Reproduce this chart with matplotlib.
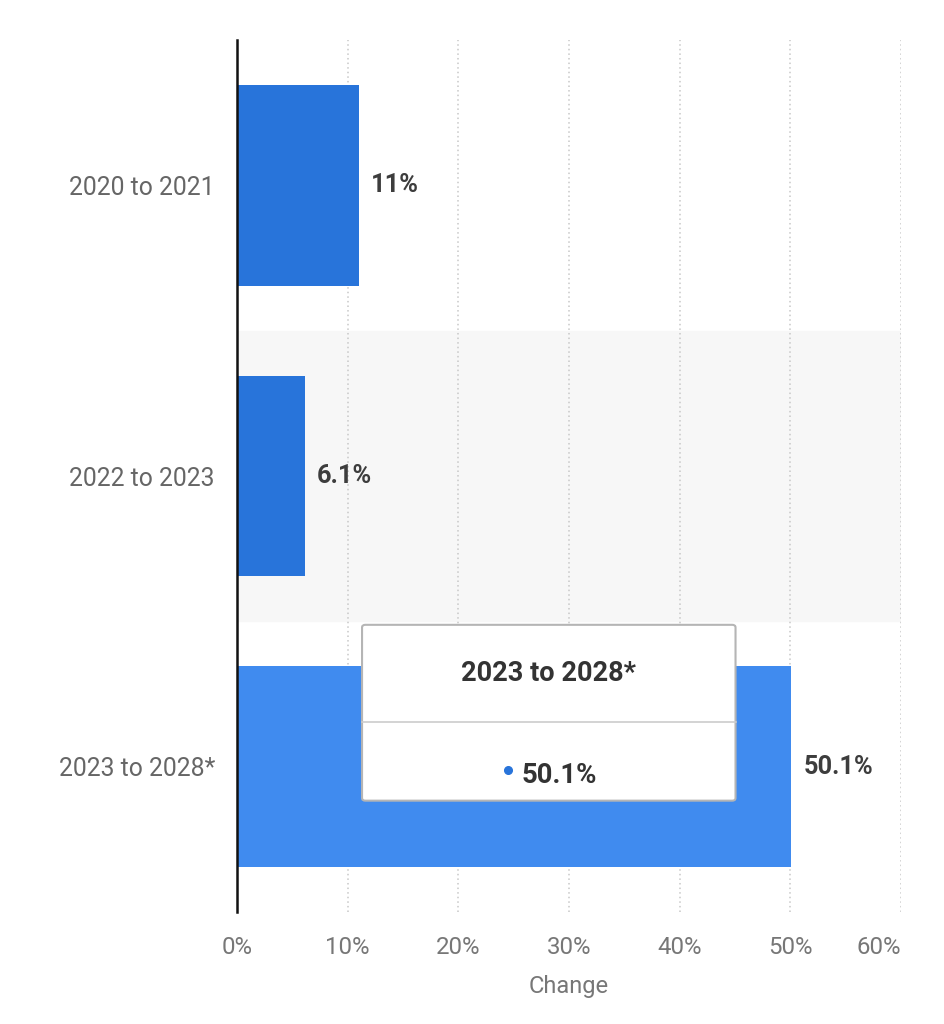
import matplotlib.pyplot as plt
from matplotlib.patches import FancyBboxPatch

plt.rcParams['font.family'] = ['Roboto', 'DejaVu Sans']

periods = ['2020 to 2021', '2022 to 2023', '2023 to 2028*']
change = [11, 6.1, 50.1]
labels = ['11%', '6.1%', '50.1%']
ticks = [0, 10, 20, 30, 40, 50, 60]

fig = plt.figure(figsize=(9.45, 10.24), dpi=100)
ax = fig.add_axes([0.2508, 0.1094, 0.7026, 0.8515])

colors = ['#2874DA', '#2874DA', '#408BEF']
ypos = list(range(len(periods)))

# hover band behind the middle category
ax.axhspan(0.5, 1.5, color='#F7F7F7', zorder=0)

ax.barh(ypos, change, height=0.69, color=colors, zorder=2)
for y, v, lab in zip(ypos, change, labels):
    ax.text(v + 1.1, y, lab, va='center', ha='left', fontsize=18.3,
            fontweight='bold', color='#3d3d3d', zorder=3)

ax.set_xlim(0, 60)
ax.set_ylim(2.5, -0.5)
ax.set_xticks(ticks)
ax.set_xticklabels([f'{t}%' for t in ticks])
ax.get_xticklabels()[-1].set_horizontalalignment('right')
ax.set_yticks(ypos)
ax.set_yticklabels(periods)
ax.tick_params(axis='x', length=0, pad=17, labelsize=17.3, labelcolor='#777777')
ax.tick_params(axis='y', length=0, pad=16, labelsize=17.8, labelcolor='#666666')
ax.set_xlabel('Change', fontsize=17, color='#777777', labelpad=12)

ax.grid(axis='x', linestyle=(0, (1, 2)), color='#c8c8c8', linewidth=1.1, zorder=1)
ax.set_axisbelow(True)
for s in ['top', 'right', 'bottom']:
    ax.spines[s].set_visible(False)
ax.spines['left'].set_color('#111111')
ax.spines['left'].set_linewidth(1.8)
ax.spines['left'].set_zorder(4)

# tooltip
tx0, tx1 = 11.3, 45.05
ty0, ty1 = 1.512, 2.117
box = FancyBboxPatch((tx0, ty0), tx1 - tx0, ty1 - ty0,
                     boxstyle='round,pad=0,rounding_size=0.3',
                     facecolor='white', edgecolor='#b5b5b5', linewidth=1.5,
                     zorder=5, mutation_aspect=0.03)
ax.add_patch(box)
mid = (tx0 + tx1) / 2
ax.text(mid, 1.68, periods[2], ha='center', va='center', fontsize=19.5,
        fontweight='bold', color='#333333', zorder=6)
ax.plot([tx0, tx1], [1.845, 1.845], color='#cccccc', linewidth=1.2, zorder=6)
ax.plot([24.5], [2.01], 'o', color='#2874DA', markersize=5.5, zorder=6)
ax.text(25.7, 2.03, labels[2], ha='left', va='center', fontsize=19.8,
        fontweight='bold', color='#333333', zorder=6)

fig.savefig('out.png', dpi=100, facecolor='white')
